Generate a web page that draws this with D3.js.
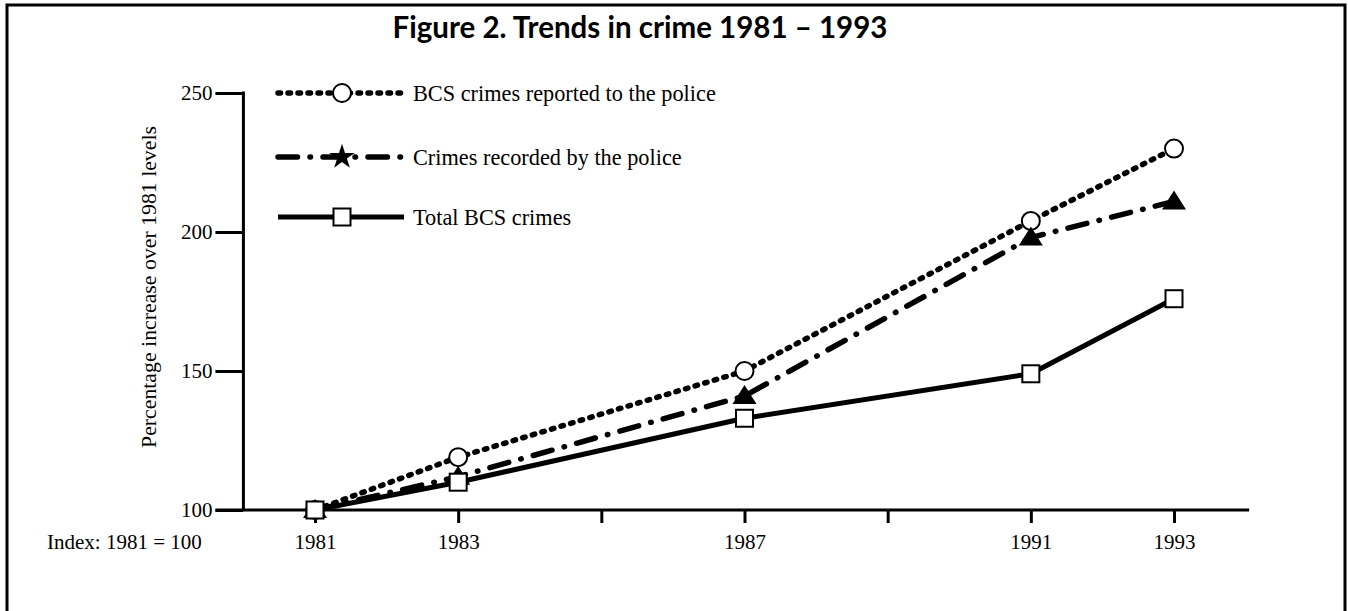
<!DOCTYPE html>
<html>
<head>
<meta charset="utf-8">
<script src="https://cdn.jsdelivr.net/npm/d3@7"></script>
<style>
  html, body { margin: 0; padding: 0; background: #fff; }
  svg { display: block; }
  .serif { font-family: "Liberation Serif", "DejaVu Serif", serif; fill: #000; }
</style>
</head>
<body>
<svg id="chart" width="1348" height="611"></svg>
<script>
// survey years and index values (1981 = 100)
const years = [1981, 1983, 1987, 1991, 1993];
const reportedToPolice = [100, 119, 150, 204, 230];
const recordedByPolice = [100, 112, 141, 198, 211];
const totalBcs = [100, 110, 133, 149, 176];

const xTickValues = [1981, 1983, 1985, 1987, 1989, 1991, 1993];
const xTickLabels = ['1981', '1983', '', '1987', '', '1991', '1993'];
const yTickValues = [100, 150, 200, 250];

const seriesNames = [
  'BCS crimes reported to the police',
  'Crimes recorded by the police',
  'Total BCS crimes'
];

const svg = d3.select('#chart');
const width = 1348;
const height = 611;

const x = d3.scaleLinear().domain([1981, 1993]).range([315, 1174]);
const y = d3.scaleLinear().domain([100, 250]).range([510, 93]);
const yAxisX = x(1980);

// frame round the figure
svg.append('rect')
  .attr('x', 7)
  .attr('y', 5)
  .attr('width', width - 10)
  .attr('height', height + 20)
  .attr('fill', 'none')
  .attr('stroke', '#000')
  .attr('stroke-width', 3);

svg.append('text')
  .attr('x', 640)
  .attr('y', 38)
  .attr('text-anchor', 'middle')
  .style('font-family', 'Lato, "Open Sans", sans-serif')
  .style('font-weight', 700)
  .style('font-size', '29.5px')
  .text('Figure 2. Trends in crime 1981 \u2013 1993');

// axes
const xAxis = d3.axisBottom(x)
  .tickValues(xTickValues)
  .tickSize(13)
  .tickPadding(11)
  .tickFormat((d, i) => xTickLabels[i]);

const gx = svg.append('g')
  .attr('transform', `translate(0,${y(100)})`)
  .call(xAxis);
gx.select('.domain').remove();

const yAxis = d3.axisLeft(y)
  .tickValues(yTickValues)
  .tickSize(28)
  .tickPadding(3);

const gy = svg.append('g')
  .attr('transform', `translate(${yAxisX},0)`)
  .call(yAxis);
gy.select('.domain').remove();

svg.append('line')
  .attr('x1', yAxisX - 28).attr('x2', x(1994.05))
  .attr('y1', y(100)).attr('y2', y(100))
  .attr('stroke', '#000').attr('stroke-width', 3);

svg.append('line')
  .attr('x1', yAxisX).attr('x2', yAxisX)
  .attr('y1', y(250) - 1.5).attr('y2', y(100))
  .attr('stroke', '#000').attr('stroke-width', 3);

svg.selectAll('.tick line')
  .attr('stroke', '#000')
  .attr('stroke-width', 3);

svg.selectAll('.tick text')
  .attr('class', 'serif')
  .style('font-size', '21px')
  .attr('fill', '#000');

svg.append('text')
  .attr('class', 'serif')
  .attr('x', 47)
  .attr('y', 549)
  .style('font-size', '21px')
  .text('Index: 1981 = 100');

svg.append('text')
  .attr('class', 'serif')
  .attr('transform', 'translate(148,287) rotate(-90)')
  .attr('text-anchor', 'middle')
  .attr('dy', '0.35em')
  .style('font-size', '21.8px')
  .text('Percentage increase over 1981 levels');

// line styles
const styles = [
  {values: reportedToPolice, dash: '2.5,7.5', width: 5.5, marker: 'circle'},
  {values: recordedByPolice, dash: '19.5,12.5,0.5,12.5', width: 5.5, marker: 'triangle'},
  {values: totalBcs, dash: null, width: 5, marker: 'square'}
];

const line = d3.line()
  .x((d, i) => x(years[i]))
  .y(d => y(d));

function drawMarker(g, kind, cx, cy, legend) {
  if (kind === 'circle') {
    g.append('circle')
      .attr('cx', cx).attr('cy', cy).attr('r', 9)
      .attr('fill', '#fff').attr('stroke', '#000').attr('stroke-width', 2);
  } else if (kind === 'square') {
    g.append('rect')
      .attr('x', cx - 8.5).attr('y', cy - 8.5)
      .attr('width', 17).attr('height', 17)
      .attr('fill', '#fff').attr('stroke', '#000').attr('stroke-width', 2);
  } else if (legend) {
    g.append('path')
      .attr('transform', `translate(${cx},${cy})`)
      .attr('d', d3.symbol().type(d3.symbolStar).size(200)())
      .attr('fill', '#000');
  } else {
    g.append('path')
      .attr('transform', `translate(${cx},${cy})`)
      .attr('d', 'M0,-11L12,8L-12,8Z')
      .attr('fill', '#000');
  }
}

// lines first, markers on top; squares drawn last
styles.forEach(s => {
  svg.append('path')
    .datum(s.values)
    .attr('d', line)
    .attr('fill', 'none')
    .attr('stroke', '#000')
    .attr('stroke-width', s.width)
    .attr('stroke-linecap', s.dash ? 'round' : 'butt')
    .attr('stroke-linejoin', 'round')
    .attr('stroke-dasharray', s.dash);
});

const markers = svg.append('g');
styles.forEach(s => {
  s.values.forEach((v, i) => drawMarker(markers, s.marker, x(years[i]), y(v), false));
});

// legend
const legendRows = [93, 157, 217];
const legend = svg.append('g');
styles.forEach((s, i) => {
  const ly = legendRows[i];
  legend.append('line')
    .attr('x1', 278).attr('x2', 404)
    .attr('y1', ly).attr('y2', ly)
    .attr('stroke', '#000')
    .attr('stroke-width', s.width)
    .attr('stroke-linecap', s.dash ? 'round' : 'butt')
    .attr('stroke-dasharray', s.dash);
  drawMarker(legend, s.marker, 342, ly, true);
  legend.append('text')
    .attr('class', 'serif')
    .attr('x', 413)
    .attr('y', ly)
    .attr('dy', '0.35em')
    .style('font-size', '22.3px')
    .text(seriesNames[i]);
});
</script>
</body>
</html>
